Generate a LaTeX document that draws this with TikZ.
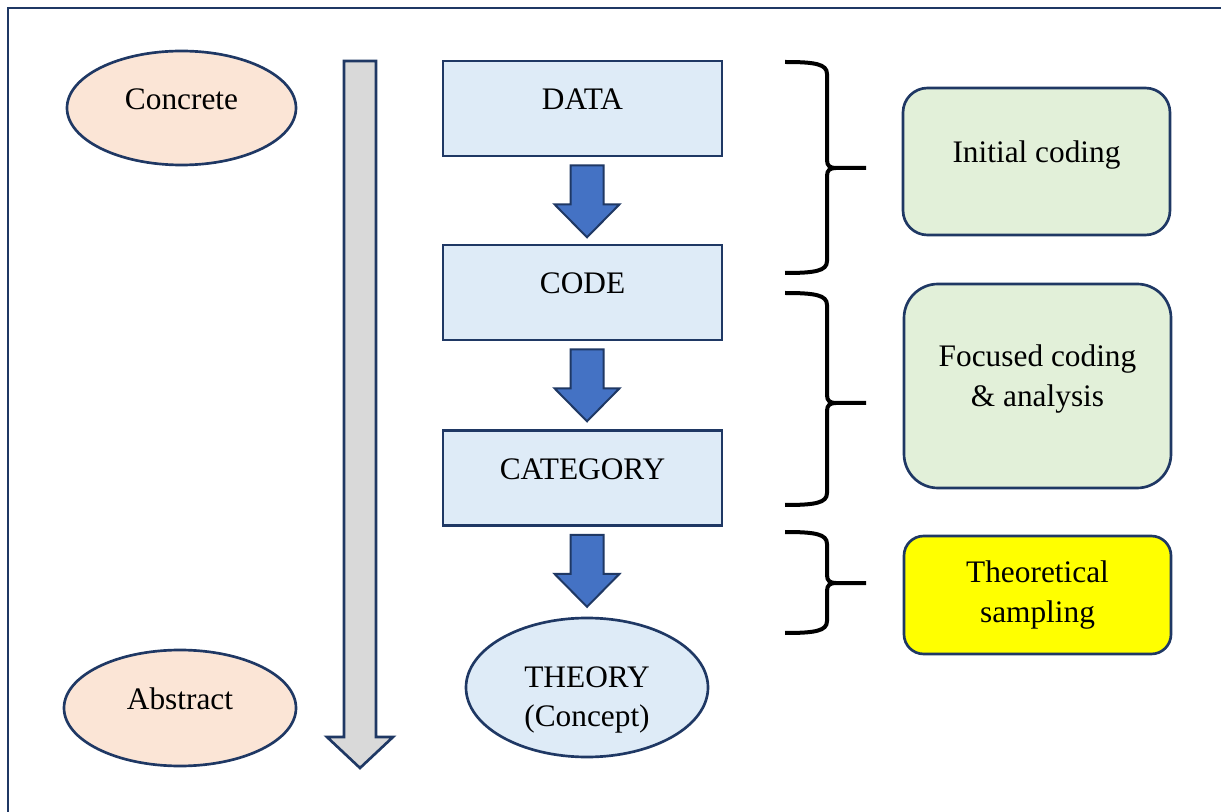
\documentclass[tikz,border=0pt]{standalone}
\usepackage{fontspec}
\setmainfont{Liberation Serif}
\usetikzlibrary{calc,shapes.geometric}

\definecolor{navy}{HTML}{1F3864}
\definecolor{peach}{HTML}{FBE5D6}
\definecolor{paleblue}{HTML}{DEEBF7}
\definecolor{palegreen}{HTML}{E2F0D9}
\definecolor{arrowblue}{HTML}{4472C4}
\definecolor{shaftgray}{HTML}{D9D9D9}
\definecolor{brightyellow}{HTML}{FFFF00}

\newcommand{\diagfont}{\fontsize{23.5}{29.5}\selectfont}

\tikzset{
	lift/.style={text height=17pt,text depth=15pt},
	blockarrow/.style={fill=arrowblue,draw=navy,line width=1.5pt,line join=miter},
	brace/.style={draw=black,line width=3pt},
}

\begin{document}
\begin{tikzpicture}[x=0.75pt,y=-0.75pt]
	\useasboundingbox (0,0) rectangle (1221,812);
	\draw[navy,line width=2pt] (8,8) rectangle (1240,830);
	
	% concrete -> abstract scale
	\begin{scope}[every node/.style={ellipse,draw=navy,line width=2pt,fill=peach,font=\diagfont,lift}]
		\node[minimum width=171.75pt,minimum height=85.5pt] (concrete) at (181.5,108) {Concrete};
		\node[minimum width=174pt,minimum height=87pt] (abstract) at (180,708) {Abstract};
	\end{scope}
	\coordinate (top) at (360,61);
	\coordinate (tip) at (360,768);
	\draw[fill=shaftgray,draw=navy,line width=2pt,line join=miter]
		($(top)+(-16,0)$) -- ($(top)+(16,0)$) -- ($(tip)+(16,-31)$) -- ($(tip)+(33,-31)$)
		-- (tip) -- ($(tip)+(-33,-31)$) -- ($(tip)+(-16,-31)$) -- cycle;
	
	% data, code, category, theory
	\begin{scope}[every node/.style={draw=navy,line width=2pt,fill=paleblue,font=\diagfont,minimum width=209.25pt,minimum height=71.25pt}]
		\node[lift] (data) at (582.5,108.5) {DATA};
		\node[lift] (code) at (582.5,292.5) {CODE};
		\node[lift] (cat) at (582.5,478) {CATEGORY};
		\node[ellipse,align=center,inner sep=0pt,text height=64pt,minimum width=181.5pt,minimum height=104.25pt] (theory) at (587,687.5) {THEORY\\(Concept)};
	\end{scope}
	
	\foreach \a in {data,code,cat}
		\draw[blockarrow] ($(\a.south)+(-12,8)$) -- ++(33,0) -- ++(0,39) -- ++(16,0)
			-- ++(-32.5,33) -- ++(-32.5,-33) -- ++(16,0) -- cycle;
	
	% braces
	\foreach \t/\m/\b in {62/168/273, 293/403/505, 532/583/633}
		\draw[brace] (785,\t) .. controls (815,\t) and (827,\t+2) .. (827,\t+12)
			-- (827,\m-8) .. controls (827,\m-2) and (830,\m) .. (836,\m) -- (866,\m)
			(836,\m) .. controls (830,\m) and (827,\m+2) .. (827,\m+8)
			-- (827,\b-12) .. controls (827,\b-2) and (815,\b) .. (785,\b);
	
	% coding stages
	\begin{scope}[every node/.style={draw=navy,line width=2pt,fill=palegreen,font=\diagfont,align=center,minimum width=200.25pt}]
		\node[lift,minimum height=110.25pt,rounded corners=18.4pt] (initial) at (1036.5,161.5) {Initial coding};
		\node[text depth=15.5pt,minimum height=153pt,rounded corners=25.5pt] (focused) at (1037.5,386) {Focused coding\\\& analysis};
		\node[fill=brightyellow,minimum height=88.5pt,rounded corners=14.75pt] (sampling) at (1037.5,595) {Theoretical\\sampling};
	\end{scope}
\end{tikzpicture}
\end{document}
